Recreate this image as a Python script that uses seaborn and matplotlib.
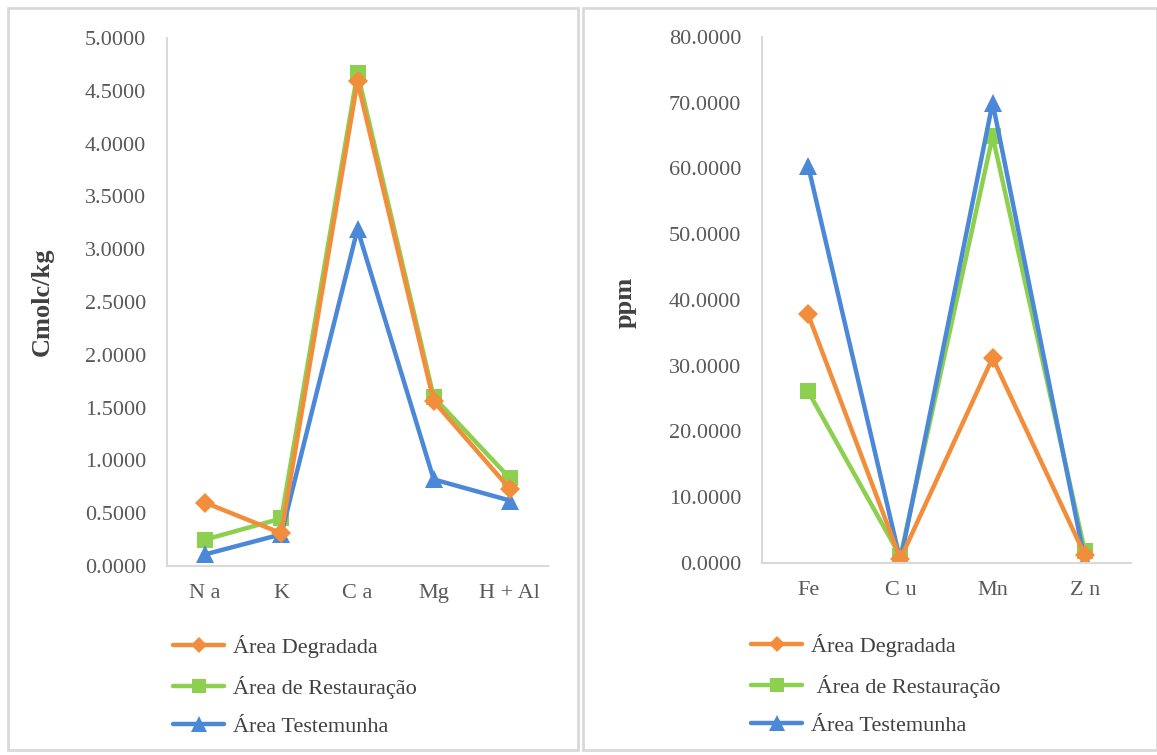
import matplotlib
matplotlib.use("Agg")
import matplotlib.pyplot as plt
import seaborn as sns
import pandas as pd
from matplotlib.lines import Line2D
from matplotlib.patches import Rectangle
from matplotlib.ticker import MultipleLocator, FormatStrFormatter

# ---- data ----
series = ["Área Degradada", "Área de Restauração", "Área Testemunha"]
legend_labels_right = ["Área Degradada", " Área de Restauração", "Área Testemunha"]

cats_left = ["N a", "K", "C a", "Mg", "H + Al"]
degradada_left = [0.60, 0.31, 4.59, 1.56, 0.73]
restauracao_left = [0.25, 0.45, 4.67, 1.60, 0.83]
testemunha_left = [0.11, 0.30, 3.19, 0.82, 0.62]

cats_right = ["Fe", "C u", "Mn", "Z n"]
degradada_right = [37.8, 0.6, 31.2, 1.2]
restauracao_right = [26.1, 1.0, 64.9, 1.8]
testemunha_right = [60.4, 0.3, 70.0, 0.3]

colors = {"Área Degradada": "#F28E3B", "Área de Restauração": "#8DD04F", "Área Testemunha": "#4B89D8"}
markers = {"Área Degradada": "D", "Área de Restauração": "s", "Área Testemunha": "^"}
msizes = {"Área Degradada": 10, "Área de Restauração": 12, "Área Testemunha": 13}

def long_df(cats, d, r, t):
    rows = []
    for name, vals in zip(series, [d, r, t]):
        for c, v in zip(cats, vals):
            rows.append({"cat": c, "val": v, "serie": name})
    return pd.DataFrame(rows)

df_left = long_df(cats_left, degradada_left, restauracao_left, testemunha_left)
df_right = long_df(cats_right, degradada_right, restauracao_right, testemunha_right)

sns.set_theme(style="white")
plt.rcParams["font.family"] = ["Liberation Serif", "DejaVu Serif"]

fig = plt.figure(figsize=(11.57, 7.55), dpi=100)

# panel borders
border = "#D9D9D9"
fig.add_artist(Rectangle((8 / 1157, 1 - 750 / 755), (578 - 8) / 1157, (750 - 8) / 755,
                         transform=fig.transFigure, fill=False, edgecolor=border, lw=2))
fig.add_artist(Rectangle((583 / 1157, 1 - 750 / 755), (1157 - 583) / 1157, (750 - 8) / 755,
                         transform=fig.transFigure, fill=False, edgecolor=border, lw=2))

ax1 = fig.add_axes([167 / 1157, 1 - 566 / 755, (548 - 167) / 1157, (566 - 38) / 755])
ax2 = fig.add_axes([762 / 1157, 1 - 563 / 755, (1131 - 762) / 1157, (563 - 37) / 755])

tick_color = "#595959"

def draw(ax, df, cats, ymax, step, ylabel, ylabel_x):
    for name in [series[1], series[2], series[0]]:
        sub = df[df["serie"] == name]
        sns.lineplot(data=sub, x="cat", y="val", ax=ax, color=colors[name],
                     marker=markers[name], markersize=msizes[name], linewidth=3.2,
                     markeredgewidth=0, legend=False, sort=False)
    ax.set_xlim(-0.5, len(cats) - 0.5)
    ax.set_ylim(0, ymax)
    ax.yaxis.set_major_locator(MultipleLocator(step))
    ax.yaxis.set_major_formatter(FormatStrFormatter("%.4f"))
    ax.set_xlabel("")
    ax.set_ylabel("")
    for s in ["top", "right"]:
        ax.spines[s].set_visible(False)
    for s in ["left", "bottom"]:
        ax.spines[s].set_color(border)
        ax.spines[s].set_linewidth(1.5)
    ax.tick_params(axis="both", length=0, colors=tick_color, labelsize=16)
    ax.tick_params(axis="y", pad=15)
    ax.tick_params(axis="x", pad=13)
    fig.text(ylabel_x, 1 - 302 / 755, ylabel, rotation=90, ha="center", va="center",
             fontsize=19, fontweight="bold", color="#404040")

draw(ax1, df_left, cats_left, 5.0, 0.5, "Cmolc/kg", 42 / 1157)
draw(ax2, df_right, cats_right, 80.0, 10.0, "ppm", 625 / 1157)

def make_handles():
    return [Line2D([0], [0], color=colors[n], marker=markers[n], markersize=msizes[n] - 2,
                   linewidth=3.2, markeredgewidth=0) for n in series]

fig.legend(make_handles(), series, loc="upper left",
           bbox_to_anchor=(153 / 1157, 1 - 615 / 755), frameon=False, fontsize=16,
           labelcolor="#404040", handlelength=2.3, handletextpad=0.4, labelspacing=0.8)
fig.legend(make_handles(), legend_labels_right, loc="upper left",
           bbox_to_anchor=(731 / 1157, 1 - 614 / 755), frameon=False, fontsize=16,
           labelcolor="#404040", handlelength=2.3, handletextpad=0.4, labelspacing=0.8)

fig.savefig("out.png", dpi=100, facecolor="white")
